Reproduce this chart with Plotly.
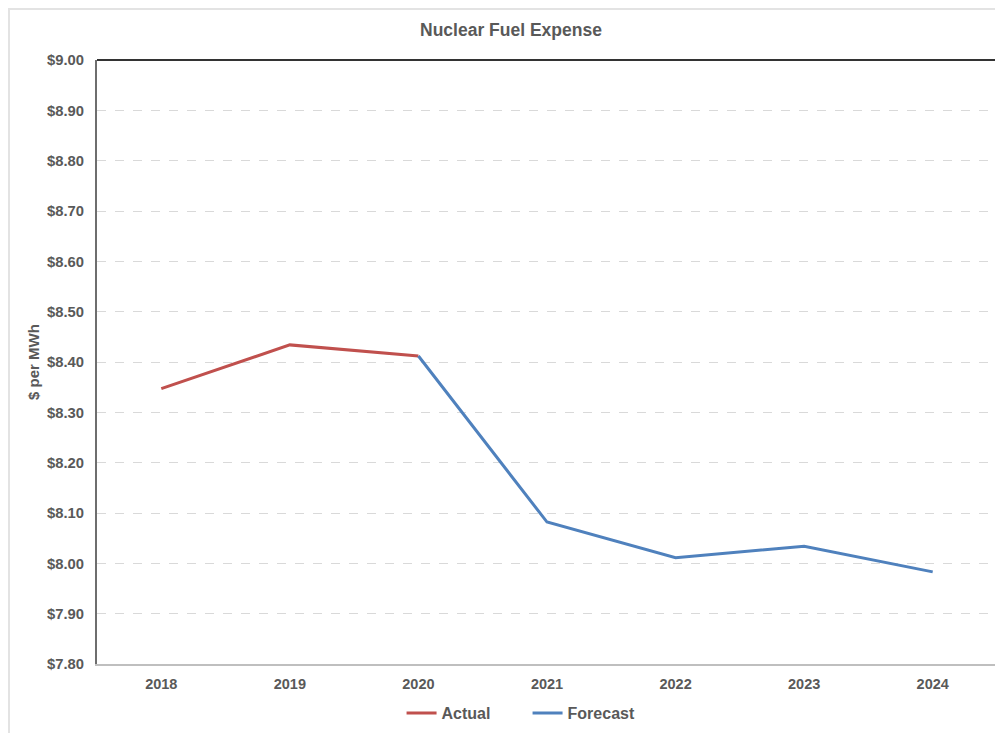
import plotly.graph_objects as go

years = ["2018", "2019", "2020", "2021", "2022", "2023", "2024"]
actual_years = ["2018", "2019", "2020"]
actual_values = [8.347, 8.434, 8.412]
forecast_years = ["2020", "2021", "2022", "2023", "2024"]
forecast_values = [8.412, 8.082, 8.011, 8.034, 7.983]
y_ticks = [7.80, 7.90, 8.00, 8.10, 8.20, 8.30, 8.40, 8.50, 8.60, 8.70, 8.80, 8.90, 9.00]

grey_text = "#595959"
font_family = "Liberation Sans, Arial, sans-serif"

fig = go.Figure()

fig.add_trace(go.Scatter(
    x=actual_years, y=actual_values, name="Actual", mode="lines",
    line=dict(color="#C0504D", width=3)
))
fig.add_trace(go.Scatter(
    x=forecast_years, y=forecast_values, name="Forecast", mode="lines",
    line=dict(color="#4F81BD", width=3)
))

fig.update_xaxes(
    type="category", categoryorder="array", categoryarray=years,
    range=[-0.5, 6.5], automargin=False,
    showgrid=False, showline=True, linecolor="#BFBFBF", linewidth=2,
    ticks="", ticklabelstandoff=6,
    tickfont=dict(size=14.5, color=grey_text, family=font_family, weight="bold"),
    zeroline=False
)
fig.update_yaxes(
    range=[7.80, 9.00], tickvals=y_ticks, tickformat="$.2f", automargin=False,
    showgrid=True, gridcolor="#D9D9D9", griddash="dash", gridwidth=1,
    showline=True, linecolor="#6E6E6E", linewidth=2,
    ticks="", ticklabelstandoff=8,
    tickfont=dict(size=14.8, color=grey_text, family=font_family, weight="bold"),
    title=dict(text="$ per MWh", standoff=4,
               font=dict(size=15, color=grey_text, family=font_family, weight="bold")),
    zeroline=False
)

# top and right border of the plot area
fig.add_shape(type="line", xref="paper", yref="paper", x0=0, x1=1, y0=1, y1=1,
              line=dict(color="#333333", width=2))
fig.add_shape(type="line", xref="paper", yref="paper", x0=1, x1=1, y0=0, y1=1,
              line=dict(color="#333333", width=2))
# outer chart frame
fig.add_shape(type="rect", xref="paper", yref="paper", x0=-0.0978, x1=1.03, y0=-0.2, y1=1.0845,
              line=dict(color="#E3E3E3", width=2), layer="below")

fig.update_layout(
    width=995, height=725,
    margin=dict(l=89, r=6, t=52, b=69),
    paper_bgcolor="white", plot_bgcolor="white",
    title=dict(text="Nuclear Fuel Expense", x=0.5055, xanchor="center", y=0.9697, yanchor="middle",
               font=dict(size=17.5, color=grey_text, family=font_family, weight="bold")),
    legend=dict(orientation="h", x=0.3384, xanchor="left",
                yref="container", y=0.0276, yanchor="middle",
                font=dict(size=16, color=grey_text, family=font_family, weight="bold"),
                itemwidth=30, entrywidth=81, tracegroupgap=0),
    showlegend=True,
    font=dict(family=font_family)
)

fig.write_html("out.html")
